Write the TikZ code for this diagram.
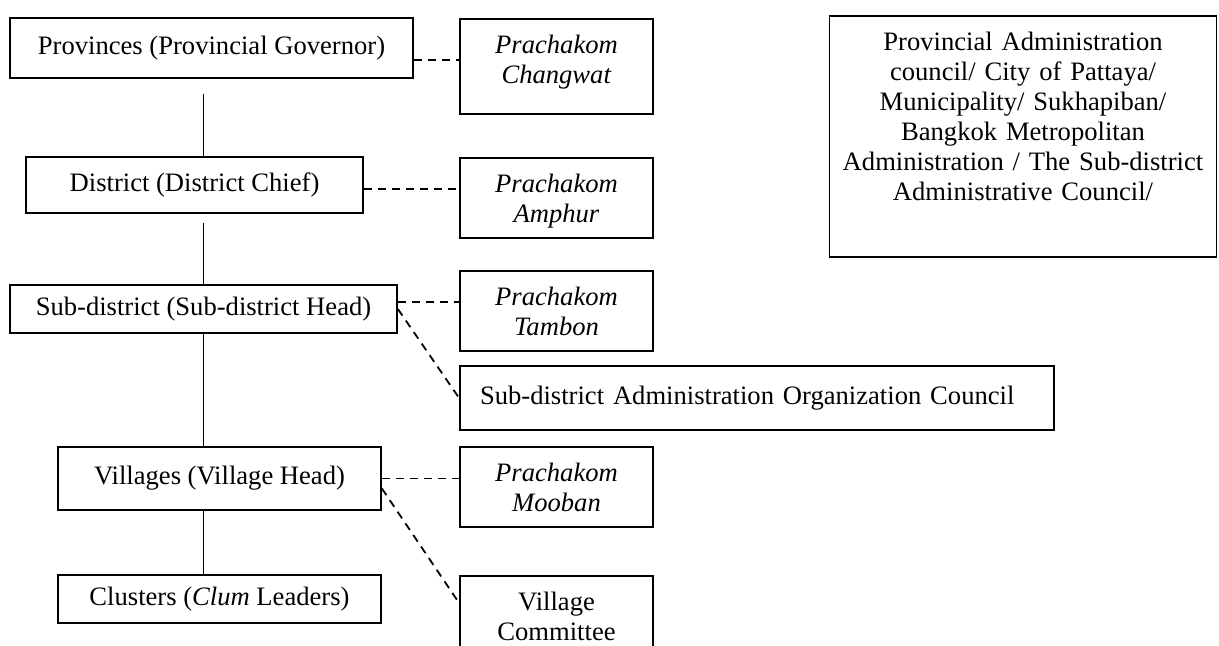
\documentclass[tikz,border=0pt]{standalone}
\usepackage{fontspec}
\setmainfont{Liberation Serif}
\usepackage{tikz}

\begin{document}
\begin{tikzpicture}[x=0.5pt,y=-0.5pt,
    every node/.style={font=\fontsize{13.3}{15}\selectfont},
    govbox/.style={draw,line width=0.9pt,inner sep=0pt},
    pbox/.style={draw,line width=0.9pt,anchor=north,text width=88.5pt,inner xsep=4pt,inner ysep=7.5pt,align=center,text height=10pt},
    link/.style={line width=0.9pt,dash pattern=on 4pt off 3pt},
    stem/.style={line width=0.7pt}]
        \useasboundingbox (0,0) rectangle (1219,645);
        \clip (0,0) rectangle (1219,645);
        \node[govbox,minimum width=201.5pt,minimum height=30pt] (prov) at (211.5,48) {Provinces (Provincial Governor)};
        \node[govbox,minimum width=168.5pt,minimum height=28pt] (dist) at (194.5,185) {District (District Chief)};
        \node[govbox,minimum width=193.5pt,minimum height=24pt] (sub) at (203.5,309) {Sub-district (Sub-district Head)};
        \node[govbox,minimum width=161.5pt,minimum height=31.5pt] (vill) at (219.5,478.5) {Villages (Village Head)};
        \node[govbox,minimum width=161.5pt,minimum height=24pt] (clus) at (219.5,599) {Clusters (\textit{Clum} Leaders)};
        \node[pbox,text depth=22.5pt] (pcw) at (556.5,18) {\textit{Prachakom}\\\textit{Changwat}};
        \node[pbox,text depth=15pt] (pam) at (556.5,157) {\textit{Prachakom}\\\textit{Amphur}};
        \node[pbox,text depth=15pt] (ptb) at (556.5,270) {\textit{Prachakom}\\\textit{Tambon}};
        \node[pbox,text depth=15pt] (pmb) at (556.5,446) {\textit{Prachakom}\\\textit{Mooban}};
        \node[pbox,text depth=20pt] (vcom) at (556.5,575) {Village\\Committee};
        \node[govbox,minimum width=297pt,minimum height=32pt,text width=277pt,inner xsep=10pt,align=left] (saoc) at (757,398) {Sub-district Administration Organization Council};
        \node[pbox,text width=185.5pt,text depth=95.5pt] (pao) at (1023,15) {Provincial Administration\\council/ City of Pattaya/\\Municipality/ Sukhapiban/\\Bangkok Metropolitan\\Administration / The Sub-district\\Administrative Council/};
        \draw[stem,shorten <=7.5pt] (prov.south -| sub.north) -- (dist.north -| sub.north);
        \draw[stem,shorten <=4.5pt] (dist.south -| sub.north) -- (sub.north);
        \draw[stem] (sub.south) -- (vill.north -| sub.south);
        \draw[stem] (vill.south -| sub.south) -- (clus.north -| sub.south);
        \draw[link] ([yshift=-6pt]prov.east) -- ([yshift=-6pt]prov.east -| pcw.west);
        \draw[link] ([yshift=-2pt]dist.east) -- ([yshift=-2pt]dist.east -| pam.west);
        \draw[link] ([yshift=3.5pt]sub.east) -- ([yshift=3.5pt]sub.east -| ptb.west);
        \draw[link] (sub.east) -- (saoc.west);
        \draw[link] (vill.east) -- (vill.east -| pmb.west);
        \draw[link] ([yshift=-5pt]vill.east) -- ([yshift=-14pt]vcom.north west);
      \end{tikzpicture}
\end{document}
